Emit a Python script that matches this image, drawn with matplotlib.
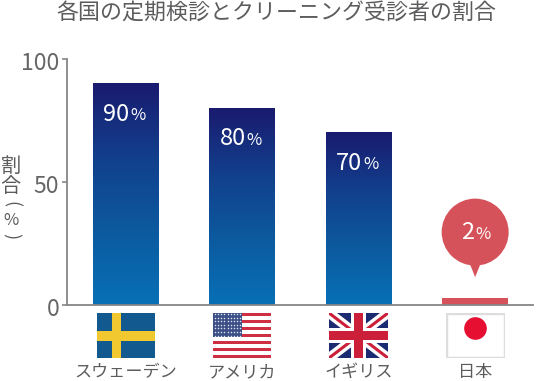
#!/usr/bin/env python3
import numpy as np
import matplotlib
matplotlib.use("Agg")
import matplotlib.pyplot as plt
from matplotlib.colors import LinearSegmentedColormap
from matplotlib.patches import Circle, Polygon, Rectangle
from matplotlib.transforms import Affine2D, ScaledTranslation

plt.rcParams['font.family'] = ['Noto Sans CJK JP', 'DejaVu Sans']

countries = ['スウェーデン', 'アメリカ', 'イギリス', '日本']
values = [90, 80, 70, 2]
bar_heights = [90, 80, 70, 2.8]  # the japan bar is drawn a bit taller than its label
yticks = [0, 50, 100]
title = '各国の定期検診とクリーニング受診者の割合'

W, H = 550, 381
GRAY = '#5c5c5e'
AXIS = '#868686'
RED = '#d5525a'

fig = plt.figure(figsize=(W / 100, H / 100), dpi=100)


def px_axes(x0, y0, x1, y1):
    # box given in image pixels, y going down
    return fig.add_axes([x0 / W, 1 - y1 / H, (x1 - x0) / W, (y1 - y0) / H])


ax = px_axes(67, 59, 533, 305)
ax.patch.set_alpha(0)

# bars with gradient
cmap = LinearSegmentedColormap.from_list('bar', ['#0870b6', '#0c5a9f', '#123f8c', '#1a1b6f'])
grad = np.linspace(0, 1, 256).reshape(-1, 1)
x = np.arange(len(values))
bars = ax.bar(x[:3], bar_heights[:3], width=0.567, color='none', edgecolor='none')
for b in bars:
    ax.imshow(grad, origin='lower', aspect='auto', cmap=cmap, zorder=2,
              extent=[b.get_x(), b.get_x() + b.get_width(), 0, b.get_height()])
ax.bar(x[3], bar_heights[3], width=0.567, color=RED, zorder=2)
ax.set_xlim(-0.507, 3.497)
ax.set_ylim(0, 100)

# value labels
for xi, v in zip(x[:3], values[:3]):
    ax.annotate(str(v), (xi, v), xytext=(2.5, -22), textcoords='offset points', ha='right',
                va='center', color='white', fontsize=17, zorder=5)
    ax.annotate('%', (xi, v), xytext=(3, -23), textcoords='offset points', ha='left',
                va='center', color='white', fontsize=12, zorder=5)

# speech bubble above the japan bar
tip = ax.transData.transform((x[3], bar_heights[3]))
to_px = Affine2D().translate(tip[0], tip[1] + 21)
ax.add_patch(Polygon([(-12, 30), (12, 30), (0, 0)], closed=True, facecolor=RED, edgecolor='none',
                     transform=to_px, clip_on=False, zorder=4))
ax.add_patch(Circle((0, 45), 33.5, facecolor=RED, edgecolor='none',
                    transform=to_px, clip_on=False, zorder=4))
ax.annotate('2', (x[3], bar_heights[3]), xytext=(-0.5, 47), textcoords='offset points', ha='right',
            va='center', color='white', fontsize=17, zorder=5)
ax.annotate('%', (x[3], bar_heights[3]), xytext=(0, 46), textcoords='offset points', ha='left',
            va='center', color='white', fontsize=12, zorder=5)

# axes
for s in ['top', 'right']:
    ax.spines[s].set_visible(False)
for s in ['left', 'bottom']:
    ax.spines[s].set_color(AXIS)
    ax.spines[s].set_linewidth(1.3)
    ax.spines[s].set_zorder(6)
ax.set_xticks([])
ax.set_yticks(yticks)
ax.tick_params(axis='y', length=3.5, width=1.2, color=AXIS, labelcolor='#666666', labelsize=16.5, pad=2)
down = ScaledTranslation(0, -2 / 100, fig.dpi_scale_trans)
for t in ax.get_yticklabels():
    t.set_transform(t.get_transform() + down)

fig.text(276.5 / W, 1 - 14 / H, title, ha='center', va='center', fontsize=15.8, color=GRAY)

# vertical y label, stacked by hand like the original
fig.text(10.5 / W, 1 - 166 / H, '割', ha='center', va='center', fontsize=14.5, color=GRAY)
fig.text(10.5 / W, 1 - 187 / H, '合', ha='center', va='center', fontsize=14.5, color=GRAY)
fig.text(10.5 / W, 1 - 204 / H, '(', ha='center', va='center', fontsize=13, color=GRAY, rotation=270)
fig.text(10.5 / W, 1 - 220 / H, '%', ha='center', va='center', fontsize=12, color=GRAY)
fig.text(10.5 / W, 1 - 236 / H, ')', ha='center', va='center', fontsize=13, color=GRAY, rotation=270)


def flag_sweden(a):
    a.set_facecolor('#12598f')
    a.add_patch(Rectangle((0.26, 0), 0.15, 1, color='#f2c830', lw=0))
    a.add_patch(Rectangle((0, 0.38), 1, 0.22, color='#f2c830', lw=0))


def flag_usa(a):
    for i in range(13):
        a.add_patch(Rectangle((0, i / 13), 1, 1 / 13, color='#cf2f43' if i % 2 == 0 else 'white', lw=0))
    a.add_patch(Rectangle((0, 6 / 13), 0.5, 7 / 13, color='#3c4f86', lw=0, zorder=3))
    sx, sy = np.meshgrid(np.linspace(0.03, 0.47, 9), np.linspace(0.5, 0.97, 7))
    a.scatter(sx.ravel(), sy.ravel(), s=1.2, color='#dfe3ee', linewidths=0, zorder=4)


def flag_uk(a):
    a.set_facecolor('#1c2a72')
    for xs in ([0, 1], [1, 0]):
        a.plot(xs, [0, 1], color='white', lw=7, solid_capstyle='butt')
        a.plot(xs, [0, 1], color='#cc1f3a', lw=2.2, solid_capstyle='butt')
    a.add_patch(Rectangle((0.375, 0), 0.25, 1, color='white', lw=0, zorder=3))
    a.add_patch(Rectangle((0, 0.33), 1, 0.34, color='white', lw=0, zorder=3))
    a.add_patch(Rectangle((0.425, 0), 0.15, 1, color='#cc1f3a', lw=0, zorder=4))
    a.add_patch(Rectangle((0, 0.40), 1, 0.19, color='#cc1f3a', lw=0, zorder=4))


def flag_japan(a):
    a.set_facecolor('white')
    a.add_patch(Rectangle((0, 0), 1, 1, fill=False, ec='#dddddd', lw=2.5))
    a.add_patch(Circle((0.5, 0.5), 0.18, color='#e60f32', transform=Affine2D().scale(1, 59 / 45) + a.transData))


flag_boxes = [(97, 155), (213, 271), (329, 388), (446, 505)]
flag_funcs = [flag_sweden, flag_usa, flag_uk, flag_japan]
for (x0, x1), func in zip(flag_boxes, flag_funcs):
    fa = px_axes(x0, 313, x1, 358)
    fa.set_xlim(0, 1)
    fa.set_ylim(0, 1)
    fa.set_xticks([])
    fa.set_yticks([])
    for s in fa.spines.values():
        s.set_visible(False)
    func(fa)

for xi, name in zip(x, countries):
    px = ax.transData.transform((xi, 0))[0]
    fig.text(px / W, 1 - 372 / H, name, ha='center', va='center', fontsize=12.3, color=GRAY)

fig.savefig('out.png', dpi=100)
